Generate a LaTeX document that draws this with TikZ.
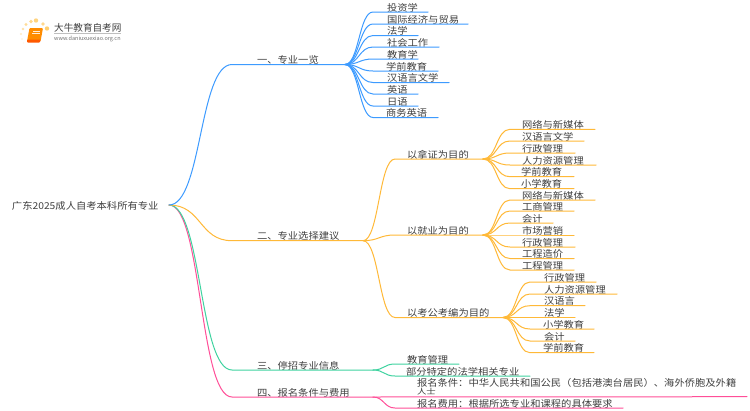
\documentclass[tikz,border=0pt]{standalone}
\usepackage{fontspec}
\usepackage{graphicx}
\setmainfont{Noto Sans CJK SC}
\usetikzlibrary{calc}
\definecolor{cblue}{HTML}{3D9BFF}
\definecolor{corange}{HTML}{FFB938}
\definecolor{cgreen}{HTML}{3FD3A0}
\definecolor{cpink}{HTML}{FF4F98}
\definecolor{cink}{HTML}{404040}
\definecolor{cdot}{HTML}{FFCF70}
\tikzset{
  lbl/.style={anchor=west,inner sep=0pt,outer sep=0pt,text=cink,font=\fontsize{10.3}{11}\selectfont},
  conn/.style={line width=1pt,line cap=round,line join=round},
}
% colour, hub, name, curve pull, line start x, line end x, line y, text x, text
\newcommand{\branch}[9]{%
  \coordinate (#3-s) at (#5,#7);
  \coordinate (#3-e) at (#6,#7);
  \node[lbl] (#3) at (#8,#7-4.4) {\scalebox{1}[0.92]{#9}};
  \draw[conn,#1] (#2) .. controls ($(#2)+(#4,0)$) and ($(#3-s)-(#4,0)$) .. (#3-s) -- (#3-e);
}
\begin{document}
\begin{tikzpicture}[x=1pt,y=-1pt]
\useasboundingbox (0,0) rectangle (750,410);
\fill[white] (0,0) rectangle (750,410);
% logo
\foreach \px/\py/\pr/\po in {36/20.5/2.2/.9,47/28.5/2.2/1,43/24/1.8/.8,31/21.5/1.9/.8,26/24.5/1.7/.7,23/29/1.4/.6,21/34/1.1/.4,22/39/.9/.3,23.5/43/.7/.2}{
  \fill[cdot,opacity=\po] (\px,\py) circle (\pr);
}
\fill[orange!90!yellow,rounded corners=1pt] (29.5,28) -- (43,28) -- (40.5,41.5) -- (27,41.5) -- cycle;
\fill[orange!70!red,rounded corners=.8pt] (27,39.5) -- (40.5,39.5) -- (40,42.5) -- (27,42.5) -- cycle;
\fill[white,opacity=.85] (32.5,30.5) rectangle (40,31.5);
\fill[white,opacity=.85] (32,33) rectangle (39.5,34);
\node[anchor=west,inner sep=0pt,text=black!75,font=\fontsize{9.6}{11}\selectfont] (logoname) at (54,27.5) {大牛教育自考网};
\draw[black!25,line width=.5pt] (54,33.2) -- (121,33.2);
\node[anchor=west,inner sep=0pt,text=black!55,font=\fontsize{5.5}{6}\selectfont] (logourl) at (54,38.8) {www.daniuxuexiao.org.cn};
% root
\coordinate (root) at (169,205);
\node[lbl] (rootlabel) at (12,205.5) {\scalebox{1}[0.92]{广东2025成人自考本科所有专业}};
% level one
\branch{cpink}{root}{n4}{33}{232}{373}{397}{257}{四、报名条件与费用}
\branch{cgreen}{root}{n3}{33}{232}{373}{370}{257}{三、停招专业信息}
\branch{corange}{root}{n2}{33}{232}{363}{240.7}{257}{二、专业选择建议}
\branch{cblue}{root}{n1}{33}{232}{345}{64.5}{257}{一、专业一览}
% blue
\branch{cblue}{n1-e}{a1}{14}{373}{428}{12}{387}{投资学}
\branch{cblue}{n1-e}{a2}{14}{373}{468}{24}{387}{国际经济与贸易}
\branch{cblue}{n1-e}{a3}{14}{373}{418}{35.5}{387}{法学}
\branch{cblue}{n1-e}{a4}{14}{373}{439}{47}{387}{社会工作}
\branch{cblue}{n1-e}{a5}{14}{373}{418}{59}{387}{教育学}
\branch{cblue}{n1-e}{a6}{14}{373}{438}{71}{386}{学前教育}
\branch{cblue}{n1-e}{a7}{14}{373}{449}{82.5}{387}{汉语言文学}
\branch{cblue}{n1-e}{a8}{14}{373}{418}{94}{387}{英语}
\branch{cblue}{n1-e}{a9}{14}{373}{418}{106}{387}{日语}
\branch{cblue}{n1-e}{a10}{14}{373}{438}{117.5}{386}{商务英语}
% orange second level
\branch{corange}{n2-e}{b1}{16}{395}{483}{159}{407}{以拿证为目的}
\branch{corange}{n2-e}{b2}{16}{395}{483}{235}{407}{以就业为目的}
\branch{corange}{n2-e}{b3}{16}{395}{503}{317.5}{407}{以考公考编为目的}
% orange leaves 1
\branch{corange}{b1-e}{c1}{14}{510}{595}{129.3}{522}{网络与新媒体}
\branch{corange}{b1-e}{c2}{14}{510}{584}{141}{522}{汉语言文学}
\branch{corange}{b1-e}{c3}{14}{510}{575}{153}{522}{行政管理}
\branch{corange}{b1-e}{c4}{14}{510}{596}{165}{522}{人力资源管理}
\branch{corange}{b1-e}{c5}{14}{510}{574}{176.7}{521}{学前教育}
\branch{corange}{b1-e}{c6}{14}{510}{574}{188.7}{521}{小学教育}
% orange leaves 2
\branch{corange}{b2-e}{d1}{14}{510}{595}{200}{522}{网络与新媒体}
\branch{corange}{b2-e}{d2}{14}{510}{574}{211}{522}{工商管理}
\branch{corange}{b2-e}{d3}{14}{510}{553}{223}{522}{会计}
\branch{corange}{b2-e}{d4}{14}{510}{574}{235}{522}{市场营销}
\branch{corange}{b2-e}{d5}{14}{510}{575}{247}{522}{行政管理}
\branch{corange}{b2-e}{d6}{14}{510}{574}{258.5}{522}{工程造价}
\branch{corange}{b2-e}{d7}{14}{510}{574}{270}{522}{工程管理}
% orange leaves 3
\branch{corange}{b3-e}{e1}{14}{530}{596}{282}{544}{行政管理}
\branch{corange}{b3-e}{e2}{14}{530}{617}{294}{544}{人力资源管理}
\branch{corange}{b3-e}{e3}{14}{530}{585}{305.7}{544}{汉语言}
\branch{corange}{b3-e}{e4}{14}{530}{575}{317.5}{544}{法学}
\branch{corange}{b3-e}{e5}{14}{530}{594}{329}{543}{小学教育}
\branch{corange}{b3-e}{e6}{14}{530}{575}{341}{544}{会计}
\branch{corange}{b3-e}{e7}{14}{530}{594}{352.7}{543}{学前教育}
% green
\branch{cgreen}{n3-e}{f1}{11}{395}{459}{364}{407}{教育管理}
\branch{cgreen}{n3-e}{f2}{11}{395}{530}{376}{406}{部分特定的法学相关专业}
% pink
\branch{cpink}{n4-e}{g2}{11}{395}{623}{408}{417}{报名费用：根据所选专业和课程的具体要求}
\coordinate (g1-e) at (747,396.7);
\node[lbl,anchor=west] (g1) at (417,383) {\scalebox{1}[0.92]{报名条件：中华人民共和国公民（包括港澳台居民）、海外侨胞及外籍}};
\node[lbl,anchor=west,font=\fontsize{9.4}{10}\selectfont] (g1b) at (417,391.4) {\scalebox{1}[0.8]{人士}};
\draw[conn,cpink] (n4-e) -- (g1-e);
\end{tikzpicture}
\end{document}
